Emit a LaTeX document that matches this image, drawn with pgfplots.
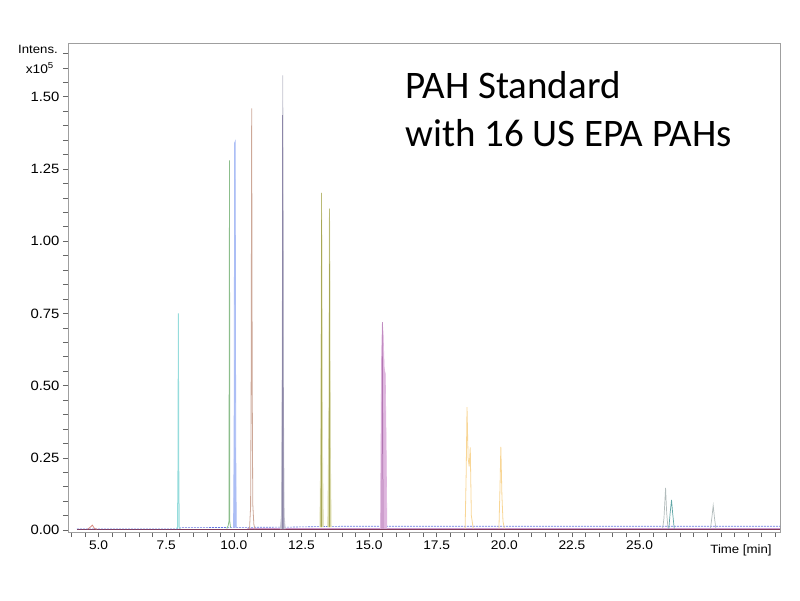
\documentclass[border=0pt]{standalone}
\usepackage{fontspec}
\setmainfont{Liberation Sans}
\newfontfamily\titlefont{Carlito}
\newfontfamily\tickfont[FakeStretch=1.1]{Liberation Sans}
\usepackage{pgfplots}
\pgfplotsset{compat=1.18}
\definecolor{cCyan}{RGB}{150,220,220}
\definecolor{cGreen}{RGB}{140,190,140}
\definecolor{cBlue}{RGB}{172,190,245}
\definecolor{cBrown}{RGB}{205,168,152}
\definecolor{cGray}{RGB}{196,196,208}
\definecolor{cPurp}{RGB}{140,134,168}
\definecolor{cOliveF}{RGB}{222,222,178}
\definecolor{cOlive}{RGB}{168,168,86}
\definecolor{cMagF}{RGB}{222,182,222}
\definecolor{cMag}{RGB}{178,118,178}
\definecolor{cOrange}{RGB}{248,214,150}
\definecolor{cLGray}{RGB}{178,188,188}
\definecolor{cTeal}{RGB}{96,166,166}
\definecolor{cBase}{RGB}{100,120,228}
\definecolor{cMaroon}{RGB}{128,60,90}
\begin{document}
\begin{tikzpicture}
\path[use as bounding box] (0pt,0pt) rectangle (800pt,600pt);
\begin{axis}[at={(68pt,68pt)}, anchor=south west, scale only axis,
  width=712pt, height=489pt,
  xmin=3.87, xmax=30.19, ymin=-0.0069, ymax=1.686,
  axis line style={gray!75},
  xtick={5,7.5,...,25}, minor xtick={4,4.5,...,30},
  ytick={0,0.25,0.5,0.75,1,1.25,1.5},
  minor ytick={0.05,0.1,0.15,0.2,0.3,0.35,0.4,0.45,0.55,0.6,0.65,0.7,0.8,0.85,0.9,0.95,1.05,1.1,1.15,1.2,1.3,1.35,1.4,1.45,1.55,1.6,1.65},
  xtick pos=bottom, ytick pos=left,
  tick align=outside, major tick length=5pt, minor tick length=5pt,
  every tick/.style={gray!80!black, line width=0.5pt},
  /pgf/number format/assume math mode=true,
  xticklabel style={font=\tickfont\fontsize{12.5}{12.5}\selectfont, black, /pgf/number format/.cd, fixed, fixed zerofill, precision=1},
  yticklabel style={font=\tickfont\fontsize{13.5}{13.5}\selectfont, black, /pgf/number format/.cd, fixed, fixed zerofill, precision=2},
  scaled ticks=false,
]
% baselines
\addplot[cMaroon, line width=0.6pt] coordinates {(4.2,0.002) (10,0.002) (20,0.002) (30.19,0.002)};
\addplot[cBase, line width=0.6pt, dash pattern=on 2pt off 1pt] coordinates {(4.2,0.004) (7.9,0.004) (8.05,0.008) (10,0.009) (12,0.010) (14,0.013) (20,0.013) (30.19,0.013)};
\addplot[violet!60, line width=0.5pt] coordinates {(10.5,0.005) (15,0.006) (30.19,0.006)};
% small bump
\addplot[cBrown!80!red, line width=0.7pt] coordinates {(4.6,0.003) (4.72,0.012) (4.77,0.017) (4.85,0.005) (4.95,0.003)};
% cyan
\addplot[cCyan, line width=1pt] coordinates {(7.88,0.004) (7.92,0.01) (7.94,0.25) (7.95,0.75) (7.96,0.25) (7.98,0.01) (8.02,0.005)};
% green
\addplot[cGreen, line width=0.8pt] coordinates {(9.74,0.005) (9.79,0.015) (9.82,0.03) (9.84,1.28) (9.85,0.03) (9.88,0.008)};
% blue
\addplot[cBlue, fill=cBlue, line width=0.8pt] coordinates {(9.99,0.008) (10.01,0.3) (10.03,1.34) (10.05,1.345) (10.07,0.3) (10.09,0.008)};
% brown
\addplot[cBrown, line width=0.8pt] coordinates {(10.58,0.003) (10.62,0.08) (10.64,0.5) (10.66,1.46) (10.68,0.5) (10.70,0.09) (10.74,0.02) (10.78,0.003)};
% gray and purple
\addplot[cGray, fill=cGray, line width=0.8pt] coordinates {(11.72,0.003) (11.76,0.05) (11.79,0.5) (11.81,1.574) (11.83,0.5) (11.86,0.05) (11.9,0.003)};
\addplot[cPurp, line width=0.7pt] coordinates {(11.79,0.003) (11.80,1.436) (11.815,1.08) (11.83,0.003)};
% olive pair
\addplot[cOliveF, fill=cOliveF, line width=0.6pt] coordinates {(13.18,0.01) (13.22,0.4) (13.24,1.167) (13.26,1.0) (13.28,0.3) (13.31,0.01)};
\addplot[cOlive, line width=0.5pt] coordinates {(13.22,0.01) (13.24,1.167) (13.25,0.01)};
\addplot[cOliveF, fill=cOliveF, line width=0.6pt] coordinates {(13.47,0.01) (13.51,0.4) (13.53,1.113) (13.55,1.05) (13.57,0.3) (13.60,0.01)};
\addplot[cOlive, line width=0.5pt] coordinates {(13.52,0.01) (13.54,1.113) (13.55,0.01)};
% magenta
\addplot[cMagF, fill=cMagF, line width=0.6pt] coordinates {(15.42,0.005) (15.46,0.6) (15.49,0.72) (15.52,0.68) (15.56,0.56) (15.60,0.54) (15.63,0.3) (15.66,0.005)};
\addplot[cMag, line width=0.5pt] coordinates {(15.47,0.005) (15.49,0.72) (15.51,0.3) (15.52,0.005)};
% orange
\addplot[cOrange, line width=0.8pt] coordinates {(18.55,0.005) (18.59,0.2) (18.62,0.425) (18.66,0.25) (18.70,0.22) (18.74,0.286) (18.78,0.05) (18.85,0.005)};
\addplot[cOrange, line width=0.8pt] coordinates {(19.80,0.005) (19.84,0.15) (19.87,0.288) (19.91,0.12) (19.95,0.03) (20.0,0.005)};
% late peaks
\addplot[cLGray, line width=0.7pt] coordinates {(25.85,0.005) (25.9,0.04) (25.96,0.146) (26.0,0.06) (26.05,0.005)};
\addplot[cTeal, line width=0.7pt] coordinates {(26.08,0.005) (26.13,0.06) (26.18,0.104) (26.22,0.06) (26.28,0.005)};
\addplot[cLGray, line width=0.7pt] coordinates {(27.62,0.005) (27.68,0.05) (27.72,0.085) (27.77,0.04) (27.82,0.005)};
\end{axis}
\node[anchor=east, font=\tickfont\fontsize{12}{12}\selectfont, inner sep=0pt] at (58pt,551pt) {Intens.};
\node[anchor=east, font=\tickfont\fontsize{12.5}{12.5}\selectfont, inner sep=0pt] at (54pt,532pt) {x10\textsuperscript{5}};
\node[anchor=center, font=\tickfont\fontsize{12}{12}\selectfont, inner sep=0pt] at (741pt,50pt) {Time [min]};
\node[anchor=base west, font=\titlefont\fontsize{39}{44}\selectfont, inner sep=0pt] at (405pt,501pt) {PAH Standard};
\node[anchor=base west, font=\titlefont\fontsize{39}{44}\selectfont, inner sep=0pt] at (405pt,453pt) {with 16 US EPA PAHs};
\end{tikzpicture}
\end{document}
